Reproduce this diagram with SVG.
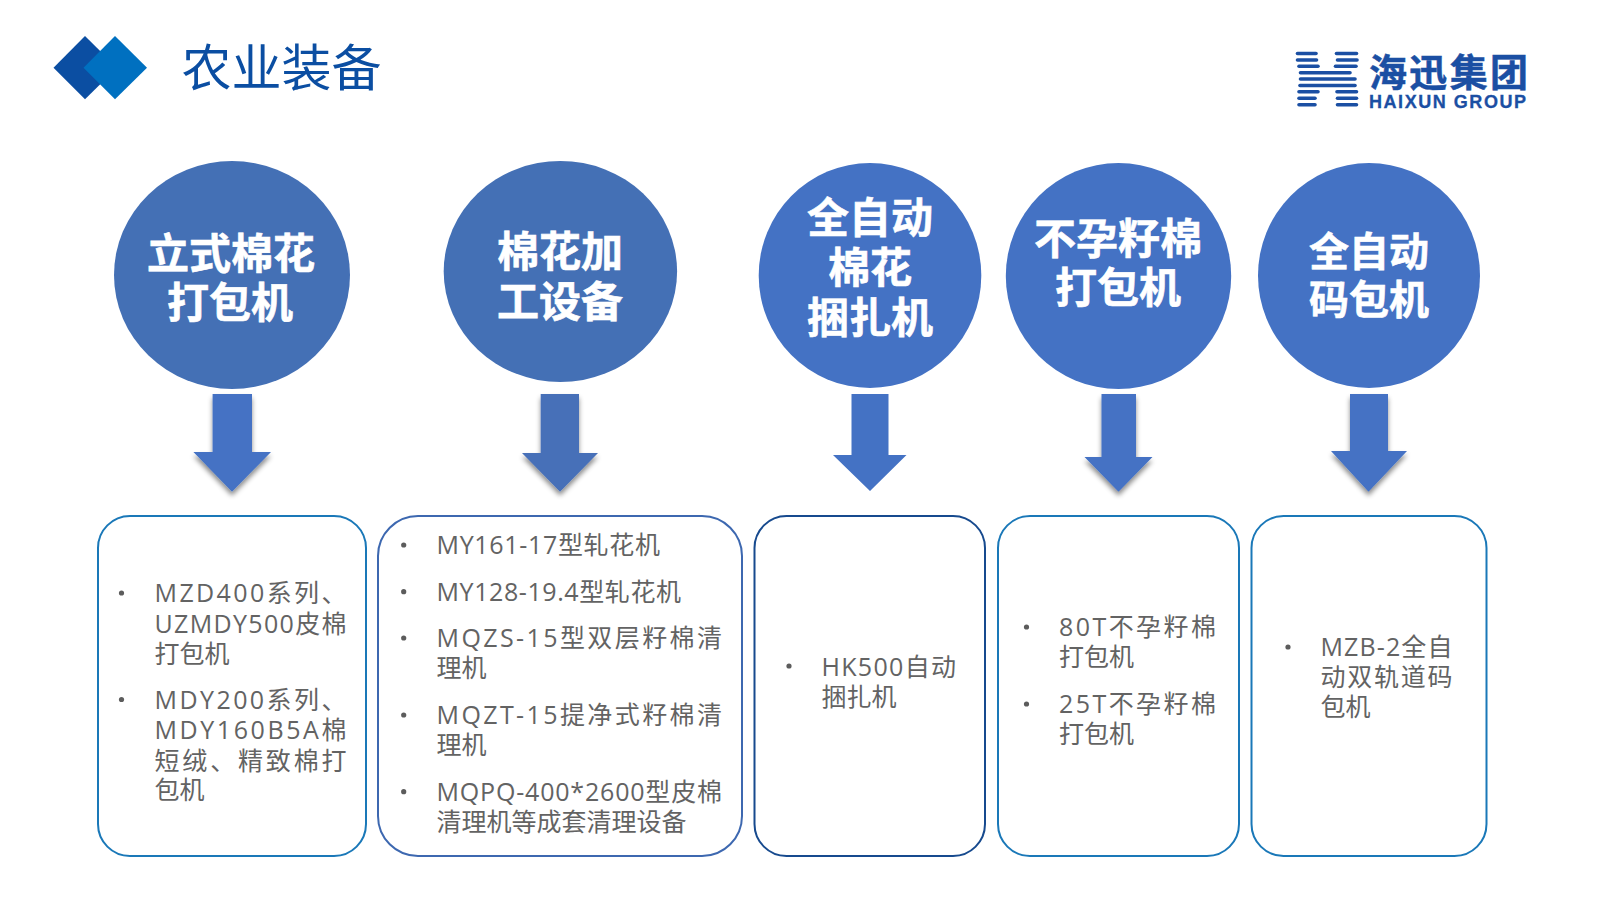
<svg xmlns="http://www.w3.org/2000/svg" width="1600" height="900" viewBox="0 0 1600 900">
<style>
text{font-family:"Noto Sans CJK SC","Noto Sans",sans-serif}
.head{fill:#fff;stroke:#fff;stroke-width:0.6;font-size:42px;font-weight:700;text-anchor:middle}
.t{font-family:"Open Sans","Noto Sans CJK SC",sans-serif;fill:#636363;font-size:25px;font-weight:400}
.b{fill:#5c5c5c}
.box{fill:#fff;stroke-width:2}
.lg line{stroke:#1b4fa3;stroke-width:3.6;stroke-linecap:round}
</style>
<defs>
<filter id="sh" x="-30%" y="-10%" width="160%" height="130%"><feDropShadow dx="0" dy="4" stdDeviation="2.5" flood-color="#000" flood-opacity="0.45"/></filter>
</defs>
<rect width="1600" height="900" fill="#fff"/>
<g id="title">
<polygon points="53.5,67.7 85,36 117,67.7 85,99.3" fill="#0b4ea2"/>
<polygon points="83.5,67.7 115,36 147,67.7 115,99.3" fill="#0070c0"/>
<text x="181.5" y="85.5" font-size="50" font-weight="400" fill="#0b4ea2" textLength="200">农业装备</text>
</g>
<g id="logo" class="lg">
<line x1="1297.5" y1="53.5" x2="1316" y2="53.5"/><line x1="1336.5" y1="53.5" x2="1356.5" y2="53.5"/>
<line x1="1297.5" y1="60" x2="1316.5" y2="60"/><line x1="1337.5" y1="60" x2="1357" y2="60"/>
<line x1="1299" y1="66.3" x2="1318" y2="66.3"/><line x1="1335.5" y1="66.3" x2="1356" y2="66.3"/>
<line x1="1300.5" y1="72.7" x2="1350" y2="72.7"/>
<line x1="1300.5" y1="79" x2="1355" y2="79"/>
<line x1="1300" y1="85.5" x2="1355" y2="85.5"/>
<line x1="1299" y1="91.7" x2="1318" y2="91.7"/><line x1="1337" y1="91.7" x2="1356.5" y2="91.7"/>
<line x1="1299" y1="98.3" x2="1315" y2="98.3"/><line x1="1337.5" y1="98.3" x2="1356.5" y2="98.3"/>
<line x1="1299" y1="104.7" x2="1315" y2="104.7"/><line x1="1337.5" y1="104.7" x2="1356.5" y2="104.7"/>
<text x="1369" y="85.5" font-size="38" font-weight="700" fill="#1b4fa3" stroke="#1b4fa3" stroke-width="0.5" textLength="159">海迅集团</text>
<text x="1369" y="107.5" font-size="18" font-weight="700" fill="#1b4fa3" stroke="#1b4fa3" stroke-width="0.3" style="font-family:'Liberation Sans',sans-serif" textLength="157">HAIXUN GROUP</text>
</g>
<g id="connectors">
<polygon id="a1" filter="url(#sh)" fill="#4472c4" points="212.6,394 252,394 252,452 271,452 232,491.7 193.4,452 212.6,452"/>
<polygon id="a2" filter="url(#sh)" fill="#466fb8" points="540.7,394 579,394 579,453 598,453 560,491.7 522,453 540.7,453"/>
<polygon id="a3" fill="#4472c4" points="851.5,394 888.5,394 888.5,455 906.5,455 870,491 833,455 851.5,455"/>
<polygon id="a4" filter="url(#sh)" fill="#4472c4" points="1101.5,394 1136,394 1136,457 1152.5,457 1118.5,491.7 1084.5,457 1101.5,457"/>
<polygon id="a5" filter="url(#sh)" fill="#4472c4" points="1350,394 1388,394 1388,451 1407,451 1368.5,491.7 1331,451 1350,451"/>
</g>
<g id="n1">
<ellipse cx="232" cy="275" rx="118" ry="114" fill="#4470b5"/>
<text class="head" x="231" y="268.7">立式棉花</text><text class="head" x="230" y="318">打包机</text>
</g>
<g id="n2">
<ellipse cx="560.4" cy="271.5" rx="116.7" ry="110.5" fill="#4470b5"/>
<text class="head" x="560" y="267">棉花加</text><text class="head" x="560" y="316.7">工设备</text>
</g>
<g id="n3">
<ellipse cx="870" cy="275.5" rx="111.3" ry="112.5" fill="#4472c4"/>
<text class="head" x="870" y="233">全自动</text><text class="head" x="870" y="283">棉花</text><text class="head" x="870" y="333">捆扎机</text>
</g>
<g id="n4">
<ellipse cx="1118.5" cy="276" rx="112.7" ry="113" fill="#4472c4"/>
<text class="head" x="1118" y="254">不孕籽棉</text><text class="head" x="1118" y="303">打包机</text>
</g>
<g id="n5">
<ellipse cx="1369" cy="275.5" rx="111" ry="112.5" fill="#4472c4"/>
<text class="head" style="font-size:40px" x="1369" y="265.5">全自动</text><text class="head" style="font-size:40px" x="1369" y="313.5">码包机</text>
</g>
<g id="b1">
<rect class="box" x="98" y="516" width="268" height="340" rx="32" stroke="#1a78b8"/>
<circle class="b" cx="121.5" cy="593" r="2.6"/><circle class="b" cx="121.5" cy="699.5" r="2.6"/>
<text class="t" x="154.5" y="602" textLength="192">MZD400系列、</text>
<text class="t" x="154.5" y="632.5" textLength="192">UZMDY500皮棉</text>
<text class="t" x="154.5" y="662.5">打包机</text>
<text class="t" x="154.5" y="708.5" textLength="192">MDY200系列、</text>
<text class="t" x="154.5" y="739" textLength="192">MDY160B5A棉</text>
<text class="t" x="154.5" y="769.5" textLength="192">短绒、精致棉打</text>
<text class="t" x="154.5" y="799">包机</text>
</g>
<g id="b2">
<rect class="box" x="378" y="516" width="364" height="340" rx="40" stroke="#3d68b0"/>
<circle class="b" cx="403.7" cy="545" r="2.6"/><circle class="b" cx="403.7" cy="591.7" r="2.6"/><circle class="b" cx="403.7" cy="638" r="2.6"/><circle class="b" cx="403.7" cy="715" r="2.6"/><circle class="b" cx="403.7" cy="791.7" r="2.6"/>
<text class="t" x="436.5" y="553.5" textLength="223.5">MY161-17型轧花机</text>
<text class="t" x="436.5" y="600.5" textLength="244.5">MY128-19.4型轧花机</text>
<text class="t" x="436.5" y="647" textLength="285.5">MQZS-15型双层籽棉清</text>
<text class="t" x="436.5" y="677">理机</text>
<text class="t" x="436.5" y="724" textLength="285.5">MQZT-15提净式籽棉清</text>
<text class="t" x="436.5" y="754">理机</text>
<text class="t" x="436.5" y="801" textLength="285.5">MQPQ-400*2600型皮棉</text>
<text class="t" x="436.5" y="831">清理机等成套清理设备</text>
</g>
<g id="b3">
<rect class="box" x="754.5" y="516" width="230.5" height="340" rx="32" stroke="#174a8e"/>
<circle class="b" cx="789" cy="666" r="2.6"/>
<text class="t" x="821.5" y="675.5" textLength="134.5">HK500自动</text>
<text class="t" x="821.5" y="705.5">捆扎机</text>
</g>
<g id="b4">
<rect class="box" x="998" y="516" width="241" height="340" rx="32" stroke="#1a78b8"/>
<circle class="b" cx="1026.5" cy="627" r="2.6"/><circle class="b" cx="1026.5" cy="704" r="2.6"/>
<text class="t" x="1059" y="636" textLength="157">80T不孕籽棉</text>
<text class="t" x="1059" y="666">打包机</text>
<text class="t" x="1059" y="713" textLength="157">25T不孕籽棉</text>
<text class="t" x="1059" y="743">打包机</text>
</g>
<g id="b5">
<rect class="box" x="1251.5" y="516" width="235" height="340" rx="32" stroke="#1a78b8"/>
<circle class="b" cx="1288" cy="647" r="2.6"/>
<text class="t" x="1320.5" y="655.5" textLength="132">MZB-2全自</text>
<text class="t" x="1320.5" y="686" textLength="132">动双轨道码</text>
<text class="t" x="1320.5" y="716">包机</text>
</g>
</svg>
